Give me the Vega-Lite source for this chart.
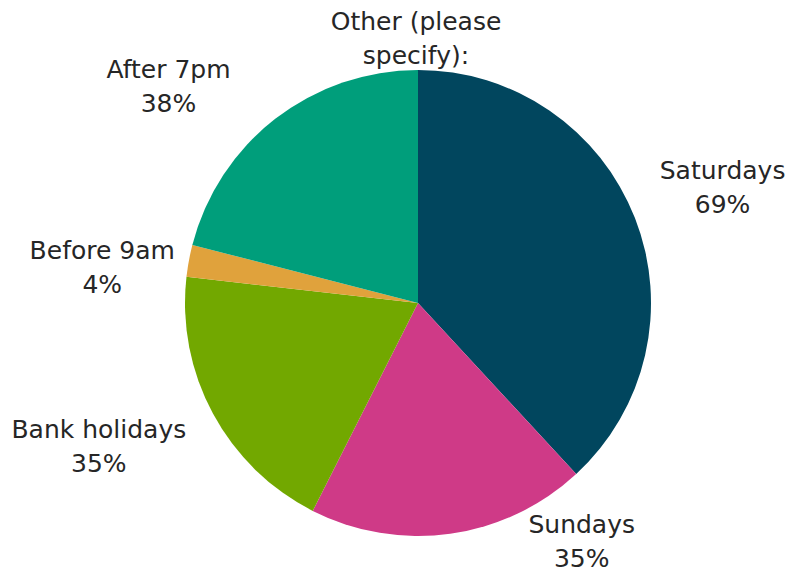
{
  "$schema": "https://vega.github.io/schema/vega-lite/v6.json",
  "width": 742,
  "height": 536,
  "autosize": {"type": "none"},
  "padding": {"left": 47, "top": 35, "right": 0, "bottom": 0},
  "background": "white",
  "config": {"view": {"stroke": null}},
  "data": {
    "values": [
      {"cat": "Saturdays", "value": 69, "order": 1, "label": "Saturdays\n69%"},
      {"cat": "Sundays", "value": 35, "order": 2, "label": "Sundays\n35%"},
      {"cat": "Bank holidays", "value": 35, "order": 3, "label": "Bank holidays\n35%"},
      {"cat": "Before 9am", "value": 4, "order": 4, "label": "Before 9am\n4%"},
      {"cat": "After 7pm", "value": 38, "order": 5, "label": "After 7pm\n38%"},
      {"cat": "Other (please specify):", "value": 0, "order": 6, "label": "Other (please\nspecify):"}
    ]
  },
  "encoding": {
    "theta": {"field": "value", "type": "quantitative", "stack": true},
    "order": {"field": "order", "type": "quantitative"},
    "detail": {"field": "cat", "type": "nominal"}
  },
  "layer": [
    {
      "mark": {"type": "arc", "radius": 233},
      "encoding": {
        "color": {
          "field": "cat",
          "type": "nominal",
          "scale": {
            "domain": ["Saturdays", "Sundays", "Bank holidays", "Before 9am", "After 7pm", "Other (please specify):"],
            "range": ["#01465E", "#CF3A87", "#72A800", "#E0A23C", "#009E7B", "#7F7F7F"]
          },
          "legend": null
        }
      }
    },
    {
      "mark": {"type": "text", "radius": 326, "dx": 1, "dy": -13, "font": "DejaVu Sans", "fontSize": 25, "lineBreak": "\n", "lineHeight": 34, "align": "center", "baseline": "middle", "color": "#262626"},
      "encoding": {"text": {"condition": {"test": "datum.cat === 'Saturdays'", "field": "label"}, "value": ""}}
    },
    {
      "mark": {"type": "text", "radius": 258, "dx": 128, "dy": -34, "font": "DejaVu Sans", "fontSize": 25, "lineBreak": "\n", "lineHeight": 34, "align": "center", "baseline": "middle", "color": "#262626"},
      "encoding": {"text": {"condition": {"test": "datum.cat === 'Sundays'", "field": "label"}, "value": ""}}
    },
    {
      "mark": {"type": "text", "radius": 349, "dx": -12, "dy": -39, "font": "DejaVu Sans", "fontSize": 25, "lineBreak": "\n", "lineHeight": 34, "align": "center", "baseline": "middle", "color": "#262626"},
      "encoding": {"text": {"condition": {"test": "datum.cat === 'Bank holidays'", "field": "label"}, "value": ""}}
    },
    {
      "mark": {"type": "text", "radius": 317, "dx": -4, "dy": 5, "font": "DejaVu Sans", "fontSize": 25, "lineBreak": "\n", "lineHeight": 34, "align": "center", "baseline": "middle", "color": "#262626"},
      "encoding": {"text": {"condition": {"test": "datum.cat === 'Before 9am'", "field": "label"}, "value": ""}}
    },
    {
      "mark": {"type": "text", "radius": 324, "dx": -51, "dy": 23, "font": "DejaVu Sans", "fontSize": 25, "lineBreak": "\n", "lineHeight": 34, "align": "center", "baseline": "middle", "color": "#262626"},
      "encoding": {"text": {"condition": {"test": "datum.cat === 'After 7pm'", "field": "label"}, "value": ""}}
    },
    {
      "mark": {"type": "text", "radius": 264, "dx": -2, "dy": -17, "font": "DejaVu Sans", "fontSize": 25, "lineBreak": "\n", "lineHeight": 34, "align": "center", "baseline": "middle", "color": "#262626"},
      "encoding": {"text": {"condition": {"test": "datum.cat === 'Other (please specify):'", "field": "label"}, "value": ""}}
    }
  ]
}
